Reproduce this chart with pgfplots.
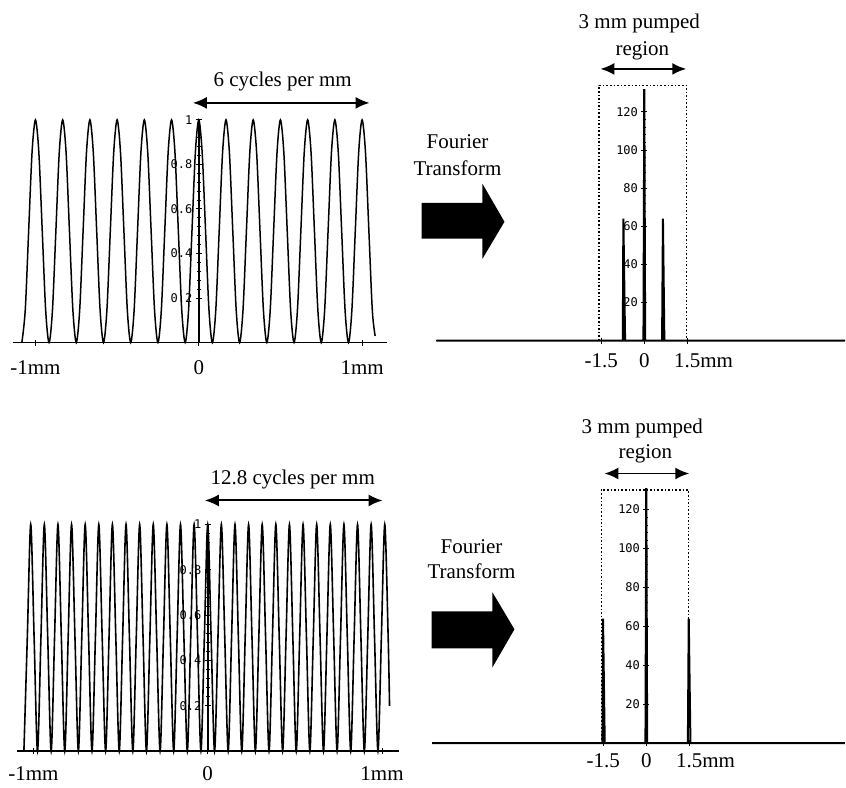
\documentclass[border=0pt]{standalone}
\usepackage{pgfplots}
\pgfplotsset{compat=1.18}
\usepackage{fontspec}
\setmainfont{Liberation Serif}
\newfontfamily\tickfont{DejaVu Sans Mono}
\usetikzlibrary{arrows.meta}

\pgfplotstableread{
x y
-1.0833 0
-1.0625 0.146
-1.0417 0.5
-1.0208 0.854
-1.0000 1
-0.9792 0.854
-0.9583 0.5
-0.9375 0.146
-0.9167 0
-0.8958 0.146
-0.8750 0.5
-0.8542 0.854
-0.8333 1
-0.8125 0.854
-0.7917 0.5
-0.7708 0.146
-0.7500 0
-0.7292 0.146
-0.7083 0.5
-0.6875 0.854
-0.6667 1
-0.6458 0.854
-0.6250 0.5
-0.6042 0.146
-0.5833 0
-0.5625 0.146
-0.5417 0.5
-0.5208 0.854
-0.5000 1
-0.4792 0.854
-0.4583 0.5
-0.4375 0.146
-0.4167 0
-0.3958 0.146
-0.3750 0.5
-0.3542 0.854
-0.3333 1
-0.3125 0.854
-0.2917 0.5
-0.2708 0.146
-0.2500 0
-0.2292 0.146
-0.2083 0.5
-0.1875 0.854
-0.1667 1
-0.1458 0.854
-0.1250 0.5
-0.1042 0.146
-0.0833 0
-0.0625 0.146
-0.0417 0.5
-0.0208 0.854
0 1
0.0208 0.854
0.0417 0.5
0.0625 0.146
0.0833 0
0.1042 0.146
0.1250 0.5
0.1458 0.854
0.1667 1
0.1875 0.854
0.2083 0.5
0.2292 0.146
0.2500 0
0.2708 0.146
0.2917 0.5
0.3125 0.854
0.3333 1
0.3542 0.854
0.3750 0.5
0.3958 0.146
0.4167 0
0.4375 0.146
0.4583 0.5
0.4792 0.854
0.5000 1
0.5208 0.854
0.5417 0.5
0.5625 0.146
0.5833 0
0.6042 0.146
0.6250 0.5
0.6458 0.854
0.6667 1
0.6875 0.854
0.7083 0.5
0.7292 0.146
0.7500 0
0.7708 0.146
0.7917 0.5
0.8125 0.854
0.8333 1
0.8542 0.854
0.8750 0.5
0.8958 0.146
0.9167 0
0.9375 0.146
0.9583 0.5
0.9792 0.854
1.0000 1
1.0208 0.854
1.0417 0.5
1.0625 0.146
1.0800 0.03
}\waveA

\pgfplotstableread{
x y
-1.0547 0
-1.0352 0.5
-1.0156 1
-0.9961 0.5
-0.9766 0
-0.9570 0.5
-0.9375 1
-0.9180 0.5
-0.8984 0
-0.8789 0.5
-0.8594 1
-0.8398 0.5
-0.8203 0
-0.8008 0.5
-0.7813 1
-0.7617 0.5
-0.7422 0
-0.7227 0.5
-0.7031 1
-0.6836 0.5
-0.6641 0
-0.6445 0.5
-0.6250 1
-0.6055 0.5
-0.5859 0
-0.5664 0.5
-0.5469 1
-0.5273 0.5
-0.5078 0
-0.4883 0.5
-0.4688 1
-0.4492 0.5
-0.4297 0
-0.4102 0.5
-0.3906 1
-0.3711 0.5
-0.3516 0
-0.3320 0.5
-0.3125 1
-0.2930 0.5
-0.2734 0
-0.2539 0.5
-0.2344 1
-0.2148 0.5
-0.1953 0
-0.1758 0.5
-0.1563 1
-0.1367 0.5
-0.1172 0
-0.0977 0.5
-0.0781 1
-0.0586 0.5
-0.0391 0
-0.0195 0.5
0 1
0.0195 0.5
0.0391 0
0.0586 0.5
0.0781 1
0.0977 0.5
0.1172 0
0.1367 0.5
0.1563 1
0.1758 0.5
0.1953 0
0.2148 0.5
0.2344 1
0.2539 0.5
0.2734 0
0.2930 0.5
0.3125 1
0.3320 0.5
0.3516 0
0.3711 0.5
0.3906 1
0.4102 0.5
0.4297 0
0.4492 0.5
0.4688 1
0.4883 0.5
0.5078 0
0.5273 0.5
0.5469 1
0.5664 0.5
0.5859 0
0.6055 0.5
0.6250 1
0.6445 0.5
0.6641 0
0.6836 0.5
0.7031 1
0.7227 0.5
0.7422 0
0.7617 0.5
0.7813 1
0.8008 0.5
0.8203 0
0.8398 0.5
0.8594 1
0.8789 0.5
0.8984 0
0.9180 0.5
0.9375 1
0.9570 0.5
0.9766 0
0.9961 0.5
1.0156 1
1.0352 0.5
1.0430 0.2
}\waveB

\pgfplotsset{
  common/.style={
    scale only axis, clip=false,
    axis lines=middle, axis line style={-, line width=0.85pt},
    hide obscured x ticks=false, hide obscured y ticks=false,
    tick align=center,
    major tick length=3pt, minor tick length=1.8pt,
    every tick/.style={black, line width=0.5pt},
    ymin=0, anchor=south west,
    x tick label style={font=\fontsize{10.5}{12}\selectfont},
    y tick label style={font=\tickfont\fontsize{6}{7}\selectfont, inner sep=1.5pt},
  },
  wave/.style={common,
    ymax=1,
    xtick={-1,0,1}, xticklabels={-1mm,0,1mm},
    ytick={0.2,0.4,0.6,0.8,1}, yticklabels={0.2,0.4,0.6,0.8,1},
    minor y tick num=4,
  },
  fft/.style={common,
    xtick={-1.5,0,1.5}, xticklabels={-1.5,0,1.5\rlap{mm}},
    ytick={20,40,60,80,100,120}, yticklabels={20,40,60,80,100,120},
    minor y tick num=4,
  },
}

\begin{document}
\begin{tikzpicture}
\begin{scope}[x=0.5pt,y=-0.5pt]
  \path[use as bounding box] (0,0) rectangle (846,784);
  \coordinate (TL) at (12.6,343);
  \coordinate (TR) at (436.9,341);
  \coordinate (BL) at (16.9,752);
  \coordinate (BR) at (432.9,744);
  % annotations
  \node[font=\fontsize{10.5}{12}\selectfont] at (283,82) {6 cycles per mm};
  \draw[line width=1pt, {Latex[length=7pt,width=6pt]}-{Latex[length=7pt,width=6pt]}] (193,103) -- (370,103);
  \node[font=\fontsize{10.5}{12}\selectfont] at (640,23) {3 mm pumped};
  \node[font=\fontsize{10.5}{12}\selectfont] at (643,51) {region};
  \draw[line width=1pt, {Latex[length=7pt,width=6pt]}-{Latex[length=7pt,width=6pt]}] (601,69) -- (687,69);
  \node[font=\fontsize{10.5}{12}\selectfont] at (458,142) {Fourier};
  \node[font=\fontsize{10.5}{12}\selectfont] at (458,168) {Transform};
  \fill (422,203) -- (483,203) -- (483,184) -- (505,222) -- (483,259) -- (483,239) -- (422,239) -- cycle;

  \node[font=\fontsize{10.5}{12}\selectfont] at (293,480) {12.8 cycles per mm};
  \draw[line width=1pt, {Latex[length=7pt,width=6pt]}-{Latex[length=7pt,width=6pt]}] (205,501) -- (383,501);
  \node[font=\fontsize{10.5}{12}\selectfont] at (643,429) {3 mm pumped};
  \node[font=\fontsize{10.5}{12}\selectfont] at (646,454) {region};
  \draw[line width=1pt, {Latex[length=7pt,width=6pt]}-{Latex[length=7pt,width=6pt]}] (605,474) -- (690,474);
  \node[font=\fontsize{10.5}{12}\selectfont] at (472,547) {Fourier};
  \node[font=\fontsize{10.5}{12}\selectfont] at (472,572) {Transform};
  \fill (432,612) -- (493,612) -- (493,593) -- (515,630) -- (493,668) -- (493,649) -- (432,649) -- cycle;
\end{scope}

% top-left waveform
\begin{axis}[wave, at={(TL)}, width=187.2pt, height=111.5pt,
  xmin=-1.14, xmax=1.15, x tick label style={yshift=-4pt}]
  \addplot[black, line width=0.75pt, smooth] table {\waveA};
\end{axis}

% top-right spectrum
\begin{axis}[fft, at={(TR)}, width=204.5pt, height=125.9pt,
  xmin=-7.25, xmax=7.0, ymax=132, x tick label style={yshift=-1.5pt}]
  \addplot[black, line width=0.8pt, densely dotted] coordinates {(-1.57,0) (-1.57,134) (1.47,134) (1.47,0)};
  \addplot[black, line width=1pt] coordinates {(-7.25,0) (-0.75,0) (-0.73,64) (-0.67,0) (-0.03,0) (0,132) (0.03,0) (0.62,0) (0.65,64) (0.70,0) (7.0,0)};
\end{axis}

% bottom-left waveform
\begin{axis}[wave, at={(BL)}, width=191.5pt, height=113.5pt,
  xmin=-1.095, xmax=1.10, x tick label style={yshift=-2.5pt}]
  \addplot[black, line width=0.8pt, smooth] table {\waveB};
\end{axis}

% bottom-right spectrum
\begin{axis}[fft, at={(BR)}, width=206.5pt, height=127.7pt,
  xmin=-7.46, xmax=6.93, ymax=131, x tick label style={yshift=0pt}]
  \addplot[black, line width=0.8pt, densely dotted] coordinates {(-1.57,0) (-1.57,130) (1.47,130) (1.47,0)};
  \addplot[black, line width=1pt] coordinates {(-7.46,0) (-1.53,0) (-1.51,64) (-1.45,0) (-0.03,0) (0,131) (0.03,0) (1.45,0) (1.48,64) (1.54,0) (6.93,0)};
\end{axis}
\end{tikzpicture}
\end{document}
